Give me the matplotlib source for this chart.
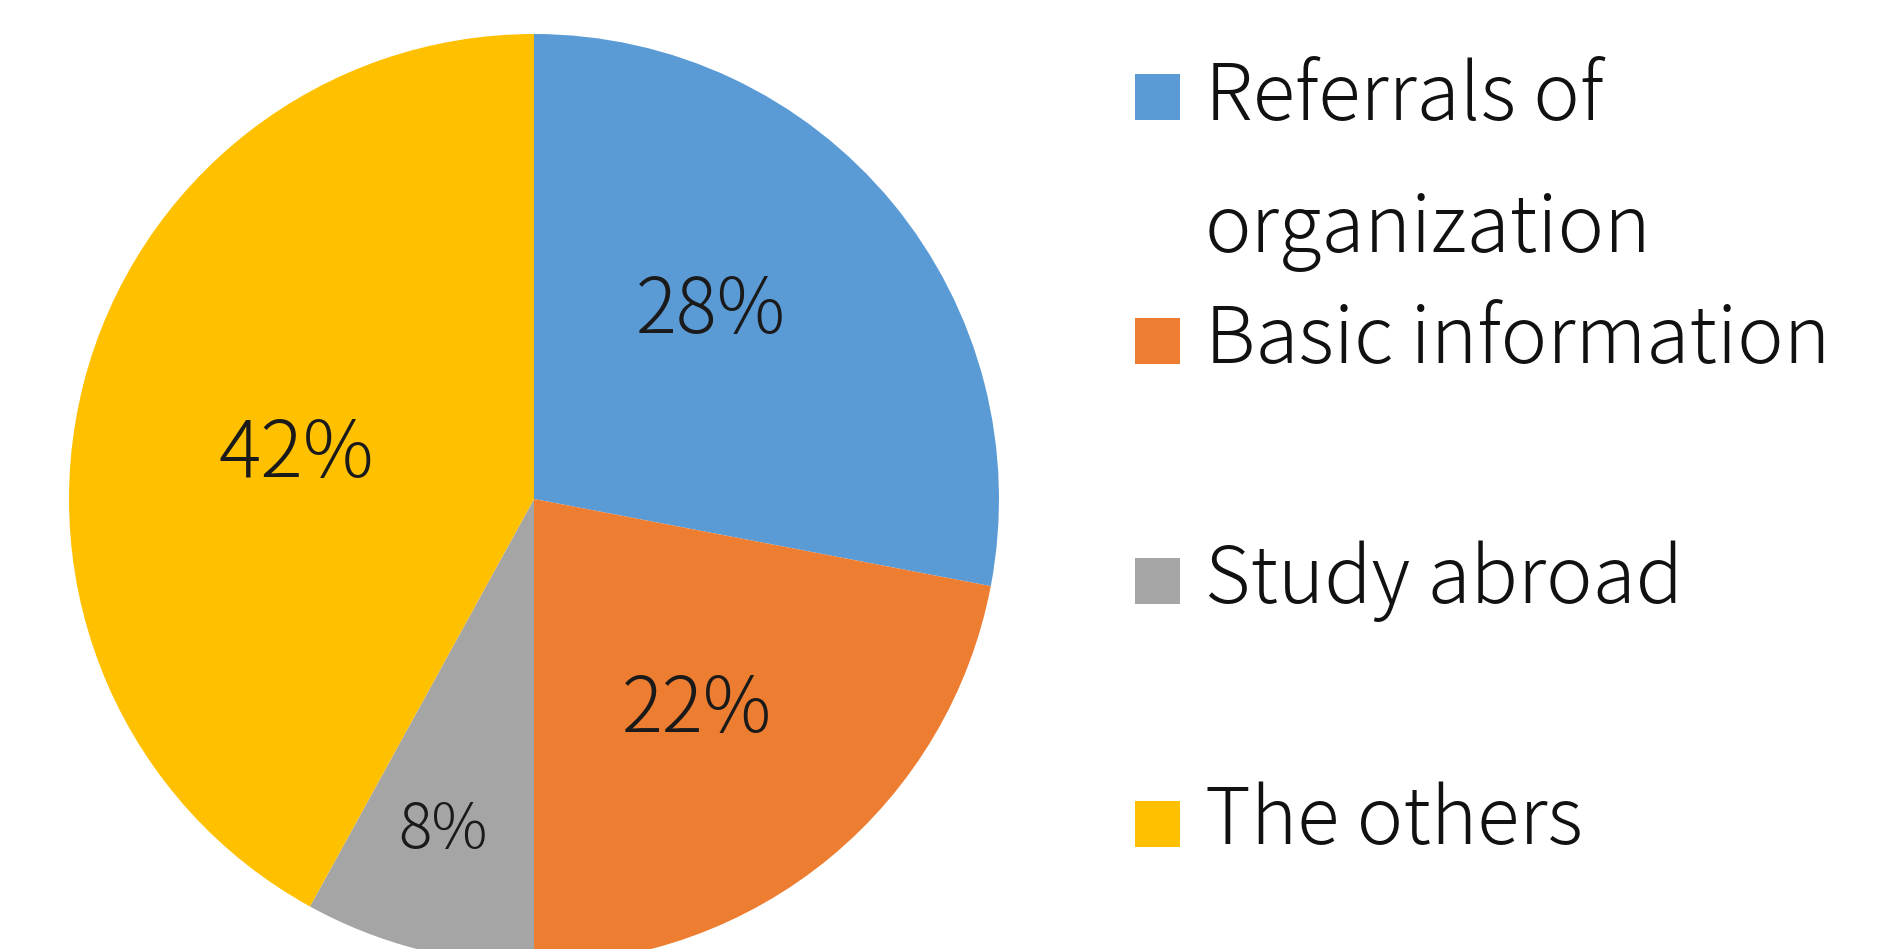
import numpy as np
import matplotlib
matplotlib.use("Agg")
import matplotlib.pyplot as plt
from matplotlib.patches import Rectangle

# data
categories = ["Referrals of\norganization", "Basic information", "Study abroad", "The others"]
shares = [28, 22, 8, 42]
colors = ["#5B9BD5", "#ED7D31", "#A5A5A5", "#FFC000"]

# label placement (fraction of radius, angle nudge in degrees)
label_dist = [0.555, 0.575, 0.74, 0.52]
label_nudge = [7, -2, -1, 4]
label_size = [55, 55, 45, 57]

plt.rcParams["font.family"] = ["Noto Sans CJK JP", "DejaVu Sans"]

W, H = 1883, 949
fig = plt.figure(figsize=(W / 100, H / 100), dpi=100)
fig.patch.set_facecolor("white")

cx, cy, r = 534, 499, 465
ax = fig.add_axes([(cx - r) / W, (H - cy - r) / H, 2 * r / W, 2 * r / H])
wedges, _ = ax.pie(shares, colors=colors, startangle=90, counterclock=False,
                   radius=1.0, wedgeprops=dict(linewidth=0))
ax.set_xlim(-1, 1)
ax.set_ylim(-1, 1)
ax.set_aspect("auto")
ax.axis("off")

for w, val, d, nud, fs in zip(wedges, shares, label_dist, label_nudge, label_size):
    ang = np.deg2rad((w.theta1 + w.theta2) / 2 + nud)
    ax.text(d * np.cos(ang), d * np.sin(ang), f"{val}%", ha="center", va="center",
            fontsize=fs, fontweight="light", color="#1a1a1a")

# legend drawn by hand (Excel-style uneven spacing)
box_y = [74, 318, 558, 801]
text_base = [120, 363, 603, 844]
for lab, col, by, tb in zip(categories, colors, box_y, text_base):
    fig.patches.append(Rectangle((1135 / W, 1 - (by + 46) / H), 45 / W, 46 / H,
                                 transform=fig.transFigure, facecolor=col, edgecolor="none"))
    lines = lab.split("\n")
    for i, ln in enumerate(lines):
        fig.text(1205 / W, 1 - (tb + i * 132) / H, ln, ha="left", va="baseline",
                 fontsize=56.5, fontweight="light", color="#111111")

fig.savefig("out.png", dpi=100)
